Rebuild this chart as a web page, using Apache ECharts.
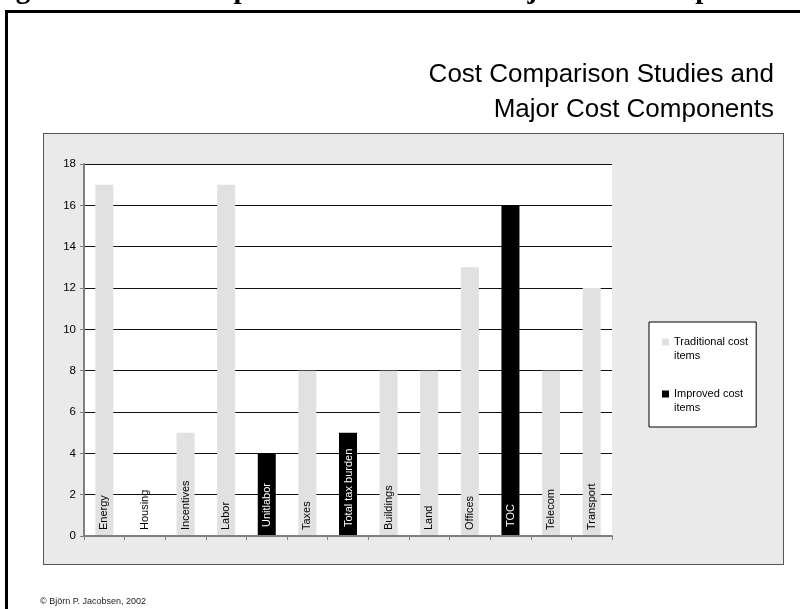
<!DOCTYPE html>
<html>
<head>
<meta charset="utf-8">
<script src="https://cdn.jsdelivr.net/npm/echarts@6/dist/echarts.min.js"></script>
<style>
  html, body { margin: 0; padding: 0; background: #fff; overflow: hidden; }
  #page { position: relative; width: 800px; height: 609px; overflow: hidden; }
  #frame { position: absolute; left: 5px; top: 10px; width: 900px; height: 700px; border: 3px solid #000; }
  #box { position: absolute; left: 43px; top: 133px; width: 739px; height: 430px;
         background: #eaeaea; border: 1px solid #555; }
  #chart { position: absolute; left: 0; top: 0; width: 800px; height: 609px; }
</style>
</head>
<body>
<div id="page">
  <div id="frame"></div>
  <div id="box"></div>
  <div id="chart"></div>
</div>
<script>
// data
const categories = ['Energy', 'Housing', 'Incentives', 'Labor', 'Unitlabor', 'Taxes', 'Total tax burden',
                    'Buildings', 'Land', 'Offices', 'TOC', 'Telecom', 'Transport'];
const traditional = [17, null, 5, 17, null, 8, null, 8, 8, 13, null, 8, 12];
const improved = [null, null, null, null, 4, null, 5, null, null, null, 16, null, null];
const yTicks = { min: 0, max: 18, interval: 2 };

const SANS = '"Liberation Sans", Arial, sans-serif';

const chart = echarts.init(document.getElementById('chart'));

chart.setOption({
    animation: false,
    backgroundColor: 'transparent',
    title: {
        text: 'Cost Comparison Studies and\nMajor Cost Components',
        left: 769, top: 52,
        textAlign: 'right',
        textStyle: { fontFamily: SANS, fontSize: 26, fontWeight: 'normal', color: '#000', lineHeight: 35 }
    },
    graphic: [
        // page heading, mostly cut off at the top
        { type: 'text', left: -10, top: -24,
          style: { text: 'Figure 9: Cost Comparison Studies and Major Cost Components',
                   font: 'bold 29px "Liberation Serif", "Times New Roman", serif', fill: '#000' } },
        { type: 'text', left: 40, top: 597,
          style: { text: '\u00A9 Bj\u00F6rn P. Jacobsen, 2002', font: '9px ' + SANS, fill: '#222' } }
    ],
    legend: {
        orient: 'vertical',
        left: 649, top: 322,
        padding: [13, 8, 12, 13],
        itemGap: 24,
        itemWidth: 7, itemHeight: 21,
        icon: 'path://M0,0h7v7h-7zM0,21',
        backgroundColor: '#fff', borderColor: '#000', borderWidth: 1,
        textStyle: { fontFamily: SANS, fontSize: 11, color: '#000', lineHeight: 14 },
        formatter: name => name.replace(' items', '\nitems')
    },
    grid: {
        left: 84, top: 164, width: 528, height: 372,
        show: true, backgroundColor: '#fff', borderWidth: 0
    },
    xAxis: {
        type: 'category',
        data: categories,
        z: 10,
        axisLine: { lineStyle: { color: '#808080', width: 2 } },
        axisTick: { show: true, length: 4, lineStyle: { color: '#808080', width: 1 } },
        axisLabel: {
            inside: true, rotate: 90, margin: 6, interval: 0,
            fontFamily: SANS, fontSize: 11, color: '#000',
            formatter: (v, i) => improved[i] != null ? '{dark|' + v + '}' : v,
            rich: {
                dark: { color: '#fff', backgroundColor: '#000', padding: [3, 4, 2, 3],
                        fontFamily: SANS, fontSize: 11 }
            }
        }
    },
    yAxis: {
        type: 'value',
        min: yTicks.min, max: yTicks.max, interval: yTicks.interval,
        axisLine: { show: true, lineStyle: { color: '#808080', width: 2 } },
        axisTick: { show: true, length: 4, lineStyle: { color: '#808080' } },
        axisLabel: { fontFamily: SANS, fontSize: 11.5, color: '#000', margin: 8 },
        splitLine: { lineStyle: { color: '#111', width: 1 } }
    },
    series: [
        { name: 'Traditional cost items', type: 'bar', stack: 'cost', barWidth: 18,
          itemStyle: { color: '#e1e1e1' }, data: traditional },
        { name: 'Improved cost items', type: 'bar', stack: 'cost', barWidth: 18,
          itemStyle: { color: '#000' }, data: improved }
    ]
});
</script>
</body>
</html>
